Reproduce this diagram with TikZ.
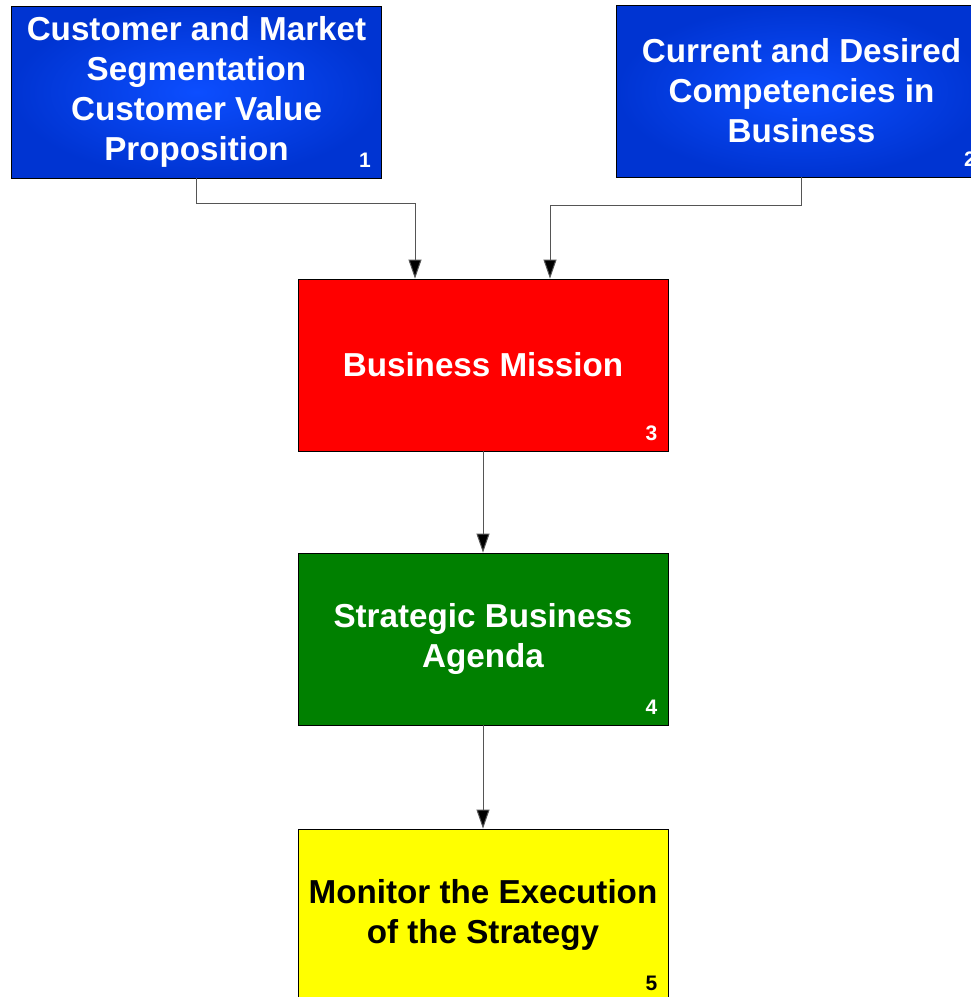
\documentclass[tikz,border=0pt]{standalone}
\usepackage{fontspec}
\setmainfont{Liberation Sans}
\usetikzlibrary{arrows.meta}
\definecolor{lineg}{RGB}{85,85,85}
\definecolor{bluein}{RGB}{12,78,255}
\definecolor{blueout}{RGB}{0,52,210}
\definecolor{boxred}{RGB}{255,0,0}
\definecolor{boxgreen}{RGB}{0,128,0}
\definecolor{boxyellow}{RGB}{255,255,0}
\tikzset{
 box/.style={draw=black, line width=0.8pt, minimum width=370pt, minimum height=172pt, inner sep=0pt,
   font=\fontsize{33.2}{40}\selectfont\bfseries, align=center, text=white},
 bluebox/.style={box, inner color=bluein, outer color=blueout},
 redbox/.style={box, fill=boxred},
 greenbox/.style={box, fill=boxgreen},
 yellowbox/.style={box, fill=boxyellow, text=black},
 num/.style={font=\fontsize{21}{24}\selectfont\bfseries, anchor=center, inner sep=0pt, text=white},
 conn/.style={draw=lineg, line width=1pt, -{Triangle[length=19pt,width=13pt,fill=black]}},
}
\begin{document}
\begin{tikzpicture}[x=1pt,y=-1pt]
\useasboundingbox (0,0) rectangle (971,997);
\clip (0,0) rectangle (971,997);
\fill[white] (0,0) rectangle (971,997);

\node[bluebox] (b1) at (196.5,92) {Customer and Market\\Segmentation\\Customer Value\\Proposition};
\node[bluebox] (b2) at (801.5,91) {Current and Desired\\Competencies in\\Business};
\node[redbox] (b3) at (483,365) {Business Mission};
\node[greenbox] (b4) at (483,639) {Strategic Business\\Agenda};
\node[yellowbox] (b5) at (483,915) {Monitor the Execution\\of the Strategy};

\node[num] (n1) at ([xshift=-17pt,yshift=18pt]b1.south east) {1};
\node[num] (n2) at ([xshift=-17pt,yshift=18pt]b2.south east) {2};
\node[num] (n3) at ([xshift=-17pt,yshift=18pt]b3.south east) {3};
\node[num] (n4) at ([xshift=-17pt,yshift=18pt]b4.south east) {4};
\node[num,text=black] (n5) at ([xshift=-17pt,yshift=18pt]b5.south east) {5};

\coordinate (j1) at (415,203);
\coordinate (j2) at (550,205);
\draw[conn] (b1.south) |- (j1) -- (j1 |- b3.north);
\draw[conn] (b2.south) |- (j2) -- (j2 |- b3.north);
\draw[conn] (b3.south) -- (b4.north);
\draw[conn] (b4.south) -- (b5.north);
\end{tikzpicture}
\end{document}
